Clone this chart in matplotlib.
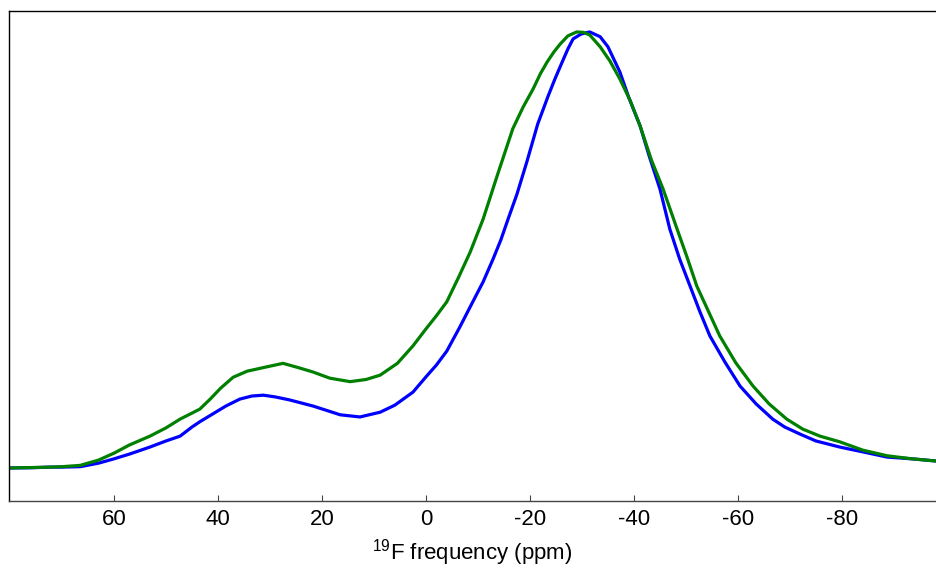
import matplotlib
matplotlib.use("Agg")
import matplotlib.pyplot as plt

plt.rcParams['font.family'] = ['Liberation Sans', 'DejaVu Sans']
plt.rcParams['mathtext.fontset'] = 'custom'
plt.rcParams['mathtext.rm'] = 'Liberation Sans'
plt.rcParams['mathtext.it'] = 'Liberation Sans:italic'
plt.rcParams['mathtext.bf'] = 'Liberation Sans:bold'

# 19F spectra (ppm, normalised intensity)
blue_ppm = [80.2, 76.0, 72.3, 70.0, 66.5, 63.0, 60.0, 57.0, 53.1, 50.0, 47.3,
            45.0, 43.5, 41.0, 38.5, 35.8, 33.5, 31.3, 29.0, 26.2, 21.7, 16.5,
            12.7, 8.8, 6.0, 2.5, 0.0, -2.0, -4.0, -6.5, -9.0, -11.0, -12.9,
            -14.4, -15.8, -17.5, -19.4, -21.5, -23.5, -24.8, -26.2, -27.3,
            -28.3, -29.8, -31.5, -33.5, -35.0, -37.3, -39.0, -41.2, -43.0,
            -45.0, -46.9, -48.8, -50.8, -52.7, -54.6, -57.5, -60.4, -63.5,
            -66.7, -69.0, -71.9, -75.0, -79.6, -84.0, -88.7, -93.5, -98.1]
blue_int = [0.0, 0.0005, 0.002, 0.002, 0.003, 0.011, 0.021, 0.032, 0.048, 0.062,
            0.073, 0.094, 0.106, 0.124, 0.142, 0.158, 0.165, 0.167, 0.163, 0.156,
            0.142, 0.122, 0.117, 0.128, 0.144, 0.174, 0.209, 0.236, 0.268, 0.323,
            0.381, 0.427, 0.479, 0.523, 0.571, 0.628, 0.702, 0.789, 0.853, 0.892,
            0.931, 0.961, 0.984, 0.995, 1.0, 0.989, 0.966, 0.908, 0.850, 0.784,
            0.713, 0.640, 0.548, 0.479, 0.417, 0.358, 0.303, 0.243, 0.188, 0.147,
            0.112, 0.094, 0.078, 0.062, 0.048, 0.037, 0.025, 0.021, 0.016]

green_ppm = [80.2, 76.0, 72.3, 70.0, 66.5, 63.0, 60.0, 57.0, 53.1, 50.0, 47.3,
             43.5, 41.5, 39.5, 37.1, 34.4, 30.6, 27.5, 24.5, 21.7, 18.5, 14.6,
             11.5, 8.8, 5.5, 2.5, 0.0, -2.0, -4.0, -6.3, -8.5, -11.0, -13.8,
             -16.7, -18.7, -20.6, -22.0, -23.3, -24.6, -25.8, -27.3, -29.0,
             -30.3, -31.5, -33.5, -35.4, -37.3, -39.3, -41.2, -43.4, -45.6,
             -48.3, -50.2, -52.1, -54.3, -56.5, -59.6, -62.9, -66.0, -69.4,
             -72.5, -75.8, -79.6, -84.0, -88.7, -93.5, -98.1]
green_int = [0.0, 0.001, 0.002, 0.003, 0.006, 0.018, 0.034, 0.053, 0.073, 0.092,
             0.112, 0.135, 0.158, 0.183, 0.208, 0.222, 0.232, 0.240, 0.230, 0.220,
             0.206, 0.198, 0.203, 0.213, 0.240, 0.280, 0.319, 0.349, 0.381, 0.438,
             0.495, 0.571, 0.674, 0.778, 0.828, 0.869, 0.904, 0.931, 0.954, 0.972,
             0.991, 1.0, 0.999, 0.993, 0.966, 0.933, 0.892, 0.842, 0.784, 0.705,
             0.640, 0.548, 0.484, 0.417, 0.360, 0.303, 0.241, 0.188, 0.147, 0.112,
             0.089, 0.073, 0.060, 0.041, 0.028, 0.021, 0.016]

xticks = [60, 40, 20, 0, -20, -40, -60, -80]

fig = plt.figure(figsize=(9.36, 5.68), dpi=100)
ax = fig.add_axes([9 / 936, 67 / 568, 927 / 936, 490 / 568])

ax.plot(blue_ppm, blue_int, color=(0, 0, 1), lw=2.3,
        solid_joinstyle='round', solid_capstyle='round')
ax.plot(green_ppm, green_int, color=(0, 0.5, 0), lw=2.3,
        solid_joinstyle='round', solid_capstyle='round')

ax.set_xlim(80.2, -98.1)
ax.set_ylim(-0.0757, 1.048)
ax.set_xticks(xticks)
ax.set_xticklabels([str(t) for t in xticks])
ax.set_yticks([])
ax.tick_params(axis='x', direction='in', length=4, width=0.8, color='#444444',
               labelsize=16, pad=6)
ax.spines['right'].set_visible(False)
ax.spines['left'].set_color('black')
ax.spines['top'].set_color('black')
ax.spines['bottom'].set_color('#444444')
for s in ['left', 'top', 'bottom']:
    ax.spines[s].set_linewidth(1.0)

ax.set_xlabel(r'$^{19}$F frequency (ppm)', fontsize=16, labelpad=5)

fig.savefig('out.png', dpi=100)
